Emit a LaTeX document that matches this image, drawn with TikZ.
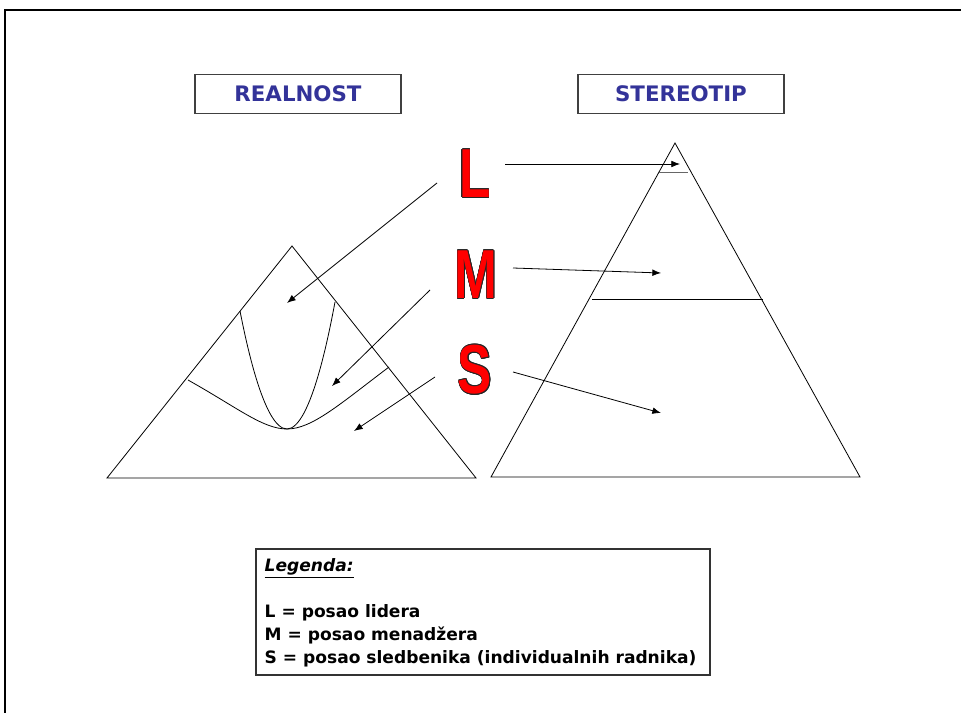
\documentclass[tikz,border=0pt]{standalone}
\usepackage{fontspec}
\setmainfont{DejaVu Sans}
\newfontfamily\narrowfont{Liberation Sans}
\usepackage[copies]{contour}
\usetikzlibrary{arrows.meta}
\definecolor{titleblue}{HTML}{333399}
\definecolor{letterred}{HTML}{FF0000}
\contourlength{0.5pt}
\newcommand{\BigLetter}[1]{\scalebox{0.74}[1]{\narrowfont\bfseries\fontsize{52}{52}\selectfont\textcolor{letterred}{\contour{black!85}{#1}}}}

\begin{document}
\begin{tikzpicture}[x=0.75pt, y=-0.75pt,
  titlebox/.style={draw=black!75, line width=1pt, minimum width=154.5pt, minimum height=29pt,
    inner sep=0pt, text=titleblue, font=\bfseries\fontsize{16}{16}\selectfont},
  letter/.style={inner sep=0pt},
  pointer/.style={-{Latex[length=6.5pt,width=5pt]}, line width=0.6pt},
  shape line/.style={line width=0.6pt}]
\useasboundingbox (0,0) rectangle (961,713);
% frame
\draw[line width=1.8pt] (5,713) |- (961,10);

% titles
\node[titlebox] (real) at (298,94) {REALNOST};
\node[titlebox] (stereo) at (681,94) {STEREOTIP};

% letters
\node[letter] (L) at (475,174) {\BigLetter{L}};
\node[letter] (M) at (476,275) {\BigLetter{M}};
\node[letter] (S) at (475,370) {\BigLetter{S}};

% realnost
\draw[shape line] (292,246) -- (476,478) -- (107,478) -- cycle;
\draw[shape line] (240,311) parabola bend (287,429) (335,302);
\draw[shape line] (188,380) .. controls (238,408) and (263,429) .. (287,429)
  .. controls (312,429) and (340,404) .. (389,367);
\coordinate (rL) at (287,303);
\coordinate (rM) at (332,386);
\coordinate (rS) at (354,431);

% stereotip
\draw[shape line] (675,143) -- (860,477) -- (491,477) -- cycle;
\draw[shape line, black!60] (659,172) -- (688,172);
\draw[shape line] (592,299) -- (763,299);
\coordinate (sL) at (680,164);
\coordinate (sM) at (661,273);
\coordinate (sS) at (661,413);

% arrows
\coordinate (Lw) at (437,183);
\coordinate (Le) at (505,164);
\coordinate (Mw) at (430,290);
\coordinate (Me) at (513,268);
\coordinate (Sw) at (435,377);
\coordinate (Se) at (513,372);
\draw[pointer] (Lw) -- (rL);
\draw[pointer] (Mw) -- (rM);
\draw[pointer] (Sw) -- (rS);
\draw[pointer] (Le) -- (sL);
\draw[pointer] (Me) -- (sM);
\draw[pointer] (Se) -- (sS);

% legenda
\node[draw=black!80, line width=0.8pt, minimum width=340.5pt, minimum height=94.5pt, inner sep=0pt] (leg) at (483,612) {};
\node[anchor=north west, align=left, inner sep=0pt, font=\bfseries\fontsize{12.8}{17.25}\selectfont]
  (legtxt) at ([shift={(9,10)}]leg.north west)
  {\underline{\itshape Legenda:}\\[17.25pt]
   L = posao lidera\\
   M = posao menadžera\\
   S = posao sledbenika (individualnih radnika)};
\end{tikzpicture}
\end{document}
